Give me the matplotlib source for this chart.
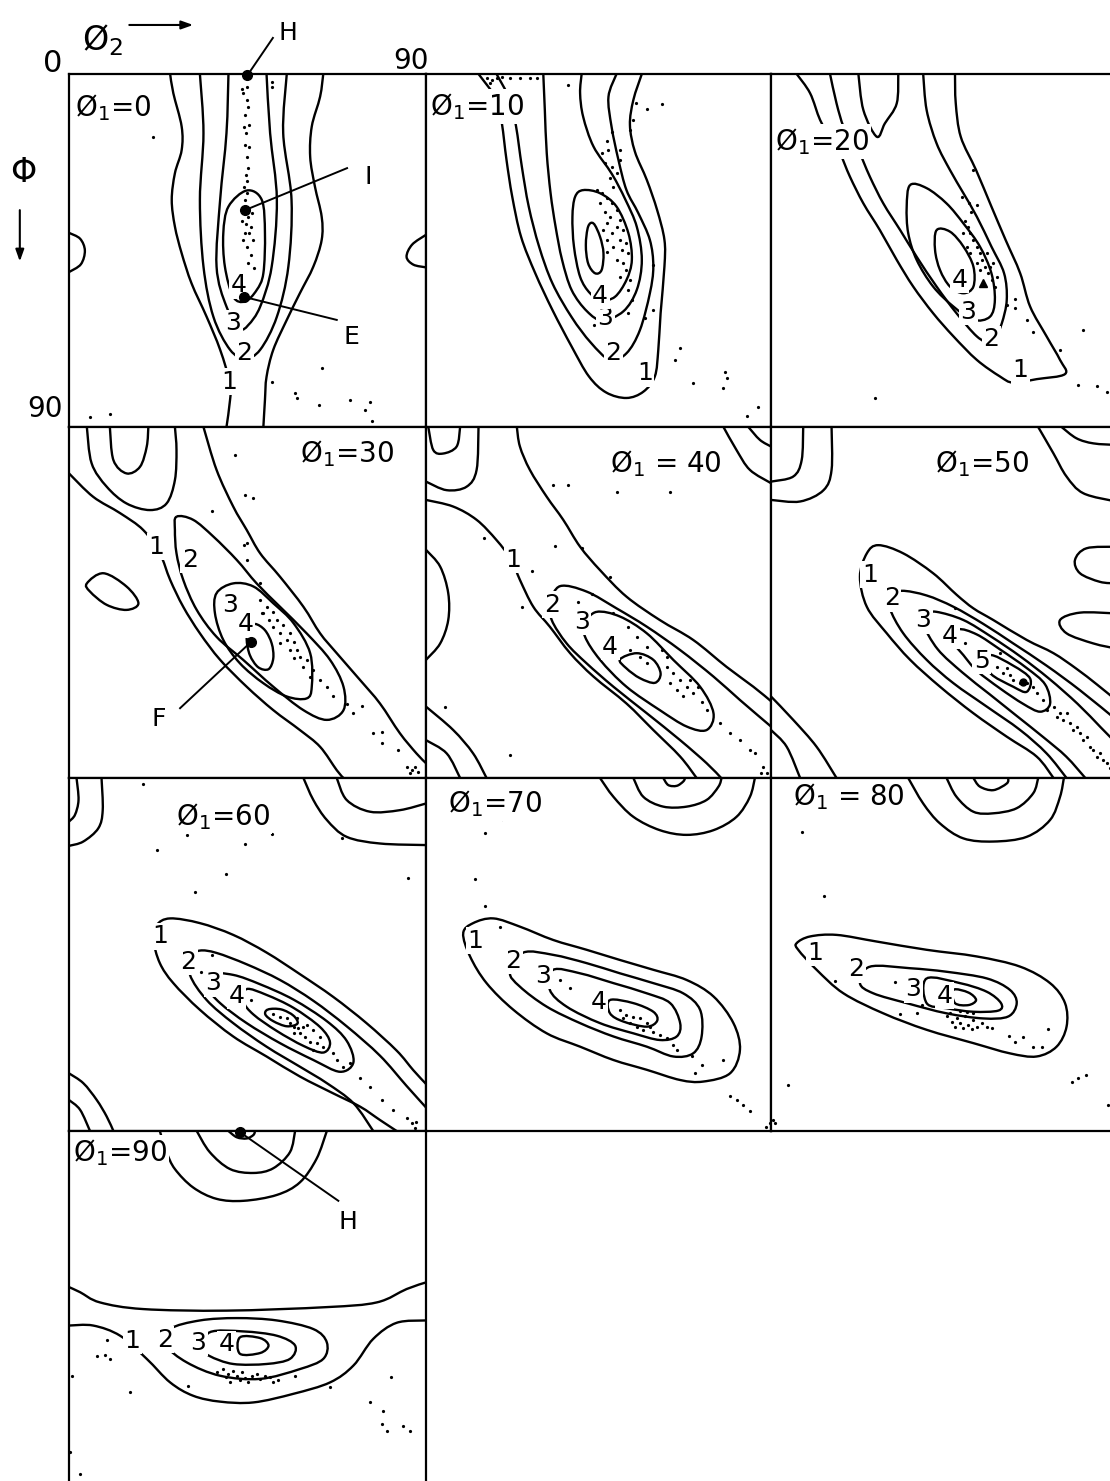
import matplotlib
matplotlib.use("Agg")
import matplotlib.pyplot as plt
from matplotlib.path import Path
from matplotlib.patches import PathPatch

plt.rcParams['font.family'] = ['DejaVu Sans']

PHI1 = [0, 10, 20, 30, 40, 50, 60, 70, 80, 90]

# phi1 = 0
P00_OPEN = [
    [(25.5, 0), (26.3, 4.9), (28.4, 13.4), (28.4, 19.4), (26.7, 25.3), (25.9, 32.1), (26.7, 38.9), (28.4, 45.7),
     (30.9, 53.4), (34.7, 61.9), (38.1, 70.3), (40.6, 78.8), (40.6, 83.1), (39.7, 90)],
    [(64.1, 0), (63.3, 5.8), (61.2, 13.4), (60.8, 21.1), (62, 28.7), (63.7, 36.4), (63.7, 42.3), (61.6, 49.1),
     (58.2, 55.9), (54.9, 62.7), (51.5, 70.3), (49.8, 77.2), (49.4, 83.1), (49, 90)],
    [(33, 0), (33.9, 15.1), (33, 32.1), (33.9, 49.1), (36.4, 61.9), (40.6, 70.3), (44.4, 72.5), (48.2, 70.3),
     (52.4, 61.9), (55.3, 49.1), (56.1, 32.1), (54, 15.1), (54.9, 0)],
    [(40.2, 0), (39.7, 15.1), (38.1, 32.1), (37.2, 49.1), (39.7, 59.3), (43.1, 64.8), (45.2, 64), (48.2, 59.3),
     (51.1, 49.1), (52.4, 32.1), (50.7, 15.1), (49.8, 0)],
    [(0, 40.5), (2.8, 42), (4, 45), (3, 48.5), (0, 50.5)],
    [(90, 41), (86.5, 43.5), (85.1, 46.6), (86.8, 48.6), (90, 49.3)],
]
P00_LOOPS = [
    [(44.8, 29.7), (48.6, 32.1), (49.4, 40.6), (49, 50.8), (47.3, 55.1), (44.4, 58), (41.4, 56.8), (39.3, 49.1),
     (38.9, 40.6), (40.2, 33.8)],
]
P00_LEVELS = [("1", 40.4, 78.5), ("2", 44.2, 71.2), ("3", 41.4, 63.6), ("4", 42.7, 53.8)]
P00_DOTS = [(43.5, 3.7), (44.8, 3.4), (43.8, 4.8), (45.2, 8.3), (44.4, 10.5), (45.5, 13), (44.6, 15.1), (44.4, 18.1),
            (44.8, 21.1), (45.2, 24), (44.6, 25.7), (44.9, 27.4), (44.4, 32.1), (45.2, 36.4), (43.5, 37.6),
            (45.8, 38.9), (44.4, 40.6), (46.3, 42.3), (44.8, 44), (45.8, 46.1), (45.2, 48.3), (46.6, 49.5),
            (43.9, 42.3), (45.5, 40.6), (44.6, 38.2), (46.1, 35.5), (43.9, 34.2), (44.9, 30.4), (44.1, 28.7),
            (45.5, 18.5), (44.2, 13.4), (45, 6.6), (51.1, 2), (51.1, 3.4), (63.7, 75), (51.1, 78.4), (57, 81.4),
            (57.4, 82.7), (62.9, 84.4), (70.8, 83.1), (75.9, 83.5), (74.6, 85.6), (76.3, 88.4), (5.3, 87.5),
            (10.3, 86.7), (21.3, 16)]

# phi1 = 10
P10_OPEN = [
    [(13.7, 0), (18.5, 6.6), (19.8, 12.6), (21, 21.9), (22.5, 31.3), (24.8, 41.5), (28.5, 50.8), (33, 60.2),
     (38, 69.5), (42.5, 77.1), (47, 81.2), (52.3, 82.6), (56.7, 81), (59.7, 77.1), (60.6, 70.3), (61.2, 61),
     (62.2, 49.1), (62.2, 42.3), (60.3, 34.7), (57.6, 27), (54.5, 19.8), (53.2, 13), (54.1, 6.6), (56.3, 0)],
    [(18.4, 0), (21.9, 6.6), (23.5, 13.4), (25, 23.6), (26.8, 33.8), (29.5, 44), (33, 53.4), (38, 62), (43, 68.5),
     (48, 72.9), (52.3, 71.2), (55.8, 65.3), (58.4, 55.9), (59.3, 49.1), (58.4, 42.3), (55.4, 35.5), (52.3, 29.6),
     (50.2, 21.9), (48.4, 13.4), (47.6, 5.8), (49.7, 0)],
    [(30.6, 0), (31, 9.2), (31.5, 20.2), (32.5, 30.4), (33.8, 38.9), (35.5, 47.4), (38, 55.1), (42, 60.5),
     (46, 62.8), (51.5, 60.5), (55, 55), (56.3, 47.4), (55, 39), (52, 32), (48.5, 25.5), (43.7, 18.5), (41, 10.9),
     (40.2, 4.9), (40.6, 0)],
]
P10_LOOPS = [
    [(41, 29.6), (45.4, 30.4), (49.7, 33.8), (52.8, 40.6), (53.7, 47.4), (52.3, 52.5), (49.3, 56.8), (45.8, 57.6),
     (42.8, 55.9), (40.2, 51.7), (38.6, 44), (38.2, 36.4), (38.9, 31.3)],
    [(43.7, 38.1), (45.4, 41.5), (46.3, 45.7), (45.8, 50), (44.1, 50.8), (42.3, 48.3), (41.7, 43.6), (42.3, 38.9)],
]
P10_LEVELS = [("1", 57.1, 76.3), ("2", 48.9, 71.2), ("3", 46.8, 62.3), ("4", 45.4, 56.5)]
P10_DOTS = [(15.8, 1.1), (17.1, 1.5), (18.4, 1.1), (19.7, 0.7), (16.7, 2.4), (21.9, 1.1), (24.5, 1.1), (27.1, 1.1),
            (28.9, 1.1), (37.1, 2.8), (54.9, 7.5), (57.6, 8.8), (61.5, 7.6), (54.1, 11.7), (53.2, 14.3),
            (48.4, 14.7), (47.1, 17.2), (45.8, 20.2), (47.6, 19.4), (50.6, 19.4), (46.7, 22.8), (48.4, 23.6),
            (50.6, 21.9), (49.7, 25.3), (48, 26.6), (48.9, 28.7), (44.5, 29.6), (45.8, 30.4), (47.1, 31.7),
            (48.4, 33), (49.7, 34.7), (45.4, 33), (46.7, 35.1), (48, 36.4), (50.6, 37.2), (49.7, 38.9),
            (51.5, 39.8), (47.1, 38.1), (46.3, 39.8), (48.4, 40.6), (50.6, 42.3), (52.3, 43.2), (47.1, 42.3),
            (48.9, 44), (51, 44.9), (52.8, 45.7), (47.1, 45.3), (49.7, 47.4), (51.5, 48.3), (52.3, 50),
            (50.6, 51.7), (53.2, 52.5), (52.8, 55.1), (53.7, 57.6), (52.8, 61), (57.1, 62.3), (59.3, 60.2),
            (59.3, 48.7), (43.7, 64), (66.3, 69.9), (65, 72.9), (78, 75.9), (78.4, 77.6), (77.6, 80.1),
            (69.7, 78.8), (86.7, 84.8), (83.7, 87.3)]

# phi1 = 20
P20_OPEN = [
    [(6.7, 0), (10.2, 4.9), (12.8, 11.7), (15.4, 16), (18, 20.2), (20.6, 26.2), (24.1, 33), (28.4, 39.8),
     (32.8, 47.4), (37.1, 54.2), (42.3, 61), (47.6, 66.9), (53.7, 72.9), (59.7, 77.1), (63.2, 78.7), (69.3, 77.8),
     (76.7, 76.5), (75.4, 72.9), (71.9, 66.9), (67.6, 59.3), (65, 50.8), (61.2, 42.3), (57.5, 33.8), (53.5, 24.5),
     (49.5, 16), (48.2, 7.5), (48, 0)],
    [(15.4, 0), (17.1, 7.5), (18.9, 13.4), (21, 16.8), (22.8, 19.4), (25.8, 26.2), (29.3, 33), (33.7, 39.8),
     (38, 46.6), (43.2, 54.2), (48.4, 61), (53.7, 66.9), (57.1, 68.6), (58.4, 67.4), (60.2, 63.6), (61.5, 57.6),
     (60.8, 50.8), (57.5, 44), (53.7, 36.4), (50.2, 30.4), (46.7, 24.5), (43.2, 17.7), (40.6, 9.2), (39.7, 0)],
    [(22.8, 0), (24.1, 9.2), (27.6, 16), (29.7, 12.6), (32.8, 7.5), (33.2, 0)],
]
P20_LOOPS = [
    [(36.3, 28.3), (40.6, 29.1), (45.8, 33), (50.2, 38.1), (54.5, 44), (57.5, 50.8), (58.4, 57.6), (57.1, 61.9),
     (52.8, 62.7), (47.6, 59.3), (42.3, 54.2), (38, 47.4), (35.8, 40.6), (35.4, 33.8)],
    [(43.2, 39.8), (46.7, 40.2), (50.2, 44), (52.8, 49.1), (52.8, 54.2), (50.2, 55.9), (46.7, 54.2), (44.1, 50),
     (42.8, 44.9)],
]
P20_LEVELS = [("1", 65, 75.5), ("2", 57.4, 67.6), ("3", 51.5, 60.6), ("4", 49.3, 52.5)]
P20_DOTS = [(50.6, 37.6), (51.5, 38.9), (52, 40.6), (52.8, 42.3), (53.7, 44), (54.5, 45.7), (55, 47.4),
            (55.8, 49.1), (56.7, 50.8), (57.6, 52.5), (58.4, 54.2), (50.2, 40.6), (51, 44), (51.9, 45.7),
            (53.7, 48.3), (54.5, 49.9), (57.1, 49.1), (56.3, 45.7), (58, 48.3), (58.9, 51.7), (52.8, 24.5),
            (49.7, 31.3), (51.7, 33), (53.7, 33.4), (52.1, 35.1), (63.7, 57.4), (61.5, 58.9), (63.7, 59.7),
            (66.7, 62.7), (68.4, 65.7), (81.5, 65.3), (75.4, 70.3), (80.2, 79.3), (85, 79.5), (87.6, 81),
            (27.1, 82.7)]

# phi1 = 30
P30_OPEN = [
    [(0, 11.9), (6.1, 17.9), (12.9, 22.1), (18.7, 26.4), (22.9, 32.4), (25.5, 39.2), (28.8, 46.1), (33, 52.9),
     (38.1, 59.7), (44.8, 66.6), (51.5, 72.6), (58.2, 77.7), (63.3, 82), (67.5, 88), (69.2, 90)],
    [(33.9, 0), (37.2, 11), (41.4, 20.4), (44.8, 26.4), (48.2, 32.4), (53.2, 38.4), (59.1, 46.1), (63.3, 52.9),
     (67.5, 58), (73.4, 64.9), (78.4, 70.9), (83.4, 78.5), (87.6, 83.7), (90, 86.2)],
    [(4.5, 0), (5.7, 9.3), (9.5, 15.3), (14.5, 19.6), (20.4, 21.3), (24.6, 19.6), (26.7, 13.6), (27.1, 5.9),
     (26.7, 0)],
    [(10.3, 0), (11.2, 8.5), (14.5, 11.9), (17.9, 10.2), (19.6, 5), (20, 0)],
]
P30_LOOPS = [
    [(4.5, 40.1), (8.7, 37.5), (14.5, 40.9), (17.5, 45.2), (14.5, 46.9), (9.5, 45.6), (5.3, 42.2)],
    [(27.1, 23), (31.3, 23.8), (36.4, 28.1), (42.3, 34.1), (47.3, 40.1), (53.2, 46.1), (59.9, 52.9), (65.8, 59.7),
     (69.2, 66.6), (69.2, 72.6), (65, 75.1), (59.1, 72.6), (51.5, 66.6), (43.9, 59.7), (37.2, 53.8), (32.2, 46.9),
     (28.8, 39.2), (27.1, 32.4), (26.7, 26.4)],
    [(37.2, 42.6), (41.4, 40.1), (46.5, 40.9), (51.5, 45.2), (56.6, 50.3), (60.8, 58), (61.2, 66.6), (59.9, 69.6),
     (54.9, 69.1), (49, 65.7), (43.1, 60.6), (38.9, 54.6), (36.8, 47.8)],
    [(46.9, 50.5), (49.4, 52.1), (51.1, 55.5), (51.5, 59.3), (50.3, 62.1), (47.7, 61.6), (45.6, 58.5), (44.8, 54.6),
     (45.2, 51.9)],
]
P30_LEVELS = [("1", 22.1, 30.7), ("2", 30.5, 34.1), ("3", 40.6, 45.6), ("4", 44.6, 50.6)]
P30_DOTS = [(48.2, 44.4), (49.8, 46.1), (51.5, 47.4), (49, 47.8), (52.4, 49.5), (54, 50.8), (51.5, 51.2),
            (53.2, 52.9), (55.7, 52.9), (54.9, 54.6), (56.6, 55), (53.2, 55.5), (55.7, 57.2), (57.4, 57.2),
            (58.2, 58.9), (56.6, 59.3), (59.9, 59.7), (59.1, 61.5), (61.6, 62.3), (60.8, 64), (63.3, 64.9),
            (65, 66.6), (66.6, 69.1), (70, 70.9), (73.8, 71.5), (71.7, 73.4), (76.7, 78.5), (78.8, 78.1),
            (78.8, 80.9), (83, 82.8), (48.2, 40.1), (44.8, 29.8), (44, 30.3), (44.8, 34.1), (41.8, 7.2),
            (44.4, 17.4), (46.3, 18.3), (36, 21.5), (48.6, 47.8), (50.3, 49.5), (85.1, 87.1), (86.4, 87.9),
            (87.2, 87.1), (88.1, 88.4), (86, 88.8)]

# phi1 = 40
P40_OPEN = [
    [(23.7, 0), (24.5, 5), (27.1, 11), (31.5, 17.9), (35.8, 23.8), (40.2, 30.7), (45.4, 36.7), (52.3, 43.5),
     (61, 49.5), (69.7, 54.6), (78.4, 61.5), (85.4, 66.6), (90, 70.3)],
    [(0, 18.7), (7.1, 20.4), (13.2, 23.8), (18.4, 29), (22.3, 34.1), (24.5, 39.2), (28, 46.1), (32.3, 51.2),
     (37.6, 58), (43.7, 64), (52.3, 70.9), (59.3, 77.7), (66.3, 84.5), (70.6, 90)],
    [(77, 90), (73.2, 86.2), (66.3, 80.3), (57.6, 73.4), (48.9, 66.6), (41.9, 60.6), (36.7, 55.5), (32.8, 49.5),
     (32.5, 45), (35, 40.8), (41.9, 42.2), (49.7, 46.5), (57.6, 51.2), (66.3, 57.2), (75, 64), (81.9, 70),
     (90, 76.8)],
    [(0.6, 0), (1.9, 5.9), (4.5, 6.8), (8, 5), (8.9, 0)],
    [(13.7, 0), (13.2, 11), (10.6, 15.3), (5.4, 16.2), (0, 14)],
    [(0, 31.5), (3.7, 35.8), (5.8, 42.6), (5.8, 49.5), (3.7, 55.5), (0, 59.7)],
    [(0, 71.7), (7.1, 77.7), (12.3, 83.7), (15.8, 90)],
    [(0, 80.3), (5.4, 83.7), (8.9, 90)],
    [(77.6, 0), (81, 5.9), (84.5, 11), (90, 14.4)],
    [(84.1, 0), (87.1, 3.3), (90, 5)],
]
P40_LOOPS = [
    [(44.5, 47.4), (50.6, 48.6), (57.6, 52.9), (64.5, 59.7), (71.5, 66.6), (75, 73.4), (73.2, 77.7), (68, 76.8),
     (61, 72.6), (52.3, 66.6), (45.4, 59.7), (41.5, 53.8), (41.5, 50.3)],
    [(50.6, 59.6), (55, 58), (59.3, 59.7), (61.2, 63.2), (59.7, 65.6), (55.8, 64.4), (52.3, 61.9)],
]
P40_LEVELS = [("1", 22.8, 34.1), ("2", 32.8, 45.6), ("3", 40.6, 49.9), ("4", 48, 56.3)]
P40_DOTS = [(33.2, 14.9), (37.1, 14.9), (49.7, 16.6), (63.7, 16.6), (33.7, 30.5), (40.6, 31.1), (27.6, 36.8),
            (48, 38.4), (43.2, 42.8), (15, 28.5), (25, 46.2), (39.7, 44.8), (48.9, 47.8), (52.8, 51.2),
            (55, 53.8), (57.6, 56.3), (62.9, 61.5), (64.5, 63.2), (66.3, 64.9), (68, 66.6), (69.7, 68.3),
            (71.9, 70.4), (63.7, 65.7), (65.4, 67.4), (67.1, 69.1), (73.2, 72.6), (76.7, 76), (79.3, 78.5),
            (81.9, 80.3), (84.5, 82.8), (85.8, 83.7), (53.2, 57.2), (55.8, 58.9), (57.6, 60.6), (61.5, 57.2),
            (62.8, 58.9), (68.9, 64.9), (71, 66.6), (4.9, 71.7), (21.9, 84.1), (88, 87.1), (88.9, 88.8),
            (87.5, 88.6)]

# phi1 = 50
P50_OPEN = [
    [(73.7, 90), (69.3, 84.5), (61.5, 79.4), (52.8, 73.4), (44.1, 66.6), (36.3, 59.7), (30.2, 52.9), (25, 46.1),
     (23.2, 38.4), (25, 32.4), (28, 30.3), (34.5, 32.4), (42.3, 37.5), (48.4, 43), (52.8, 46.5), (58, 49.5),
     (66.7, 54.6), (73.7, 58), (79.7, 62), (85, 66), (90, 70)],
    [(77.1, 90), (71.9, 83.7), (65, 77.7), (56.3, 71.7), (47.6, 65.7), (40.6, 59.7), (34.5, 52.9), (31, 46.5),
     (31.5, 43.5), (34.1, 42), (40.6, 43.2), (47.6, 46.1), (55.4, 50.5), (63.2, 55.5), (71.9, 61.2),
     (80.6, 67.5), (90, 75)],
    [(82, 90), (77, 84.5), (71, 79.5), (64, 74), (57, 68.5), (50, 63), (43.5, 57), (39.7, 50.5), (40.5, 48),
     (43.2, 47.4), (50.2, 49.5), (57.5, 53.8), (65, 58.8), (72.5, 64.5), (80, 71), (86, 77), (90, 81)],
    [(8.4, 0), (8, 8.5), (5.8, 12.7), (0, 14)],
    [(15.8, 0), (15.8, 11), (13.7, 16.2), (7.6, 19.1), (0, 18.7)],
    [(69.7, 0), (73.7, 6.8), (77.1, 12.7), (81.5, 17), (90, 19.1)],
    [(75.8, 0), (79.7, 2.9), (84.1, 4.2), (90, 4.6)],
    [(90, 30.7), (82.3, 31.1), (79.3, 34.1), (80.6, 37.5), (85.8, 39.7), (90, 40.1)],
    [(90, 47.8), (80.6, 47.6), (75.4, 49.5), (77.1, 52.9), (84.1, 55.5), (90, 56.8)],
    [(0, 69.1), (5.8, 75.1), (11.9, 82), (17.1, 90)],
    [(0, 77.7), (4.1, 82), (7.6, 90)],
]
P50_LOOPS = [
    [(48.9, 51.9), (53.7, 53.2), (59.7, 57), (66.7, 61.8), (71.5, 66), (72.8, 71), (70.2, 73), (65.8, 71),
     (59.7, 67), (53.7, 62.5), (50.2, 58.5), (47.5, 55)],
    [(57.1, 58.5), (63.2, 61.2), (67.6, 64.5), (66.7, 67.9), (63.2, 66.6), (57.1, 63)],
]
P50_LEVELS = [("1", 25.8, 37.9), ("2", 31.5, 43.9), ("3", 39.7, 49.5), ("4", 46.7, 53.5), ("5", 55, 59.9)]
P50_DOTS = [(58.9, 61.5), (60.6, 63.2), (62.3, 63.6), (63.2, 64.9), (65, 65.7), (66.7, 65.7), (68.4, 66.6),
            (69.3, 68.3), (71, 70), (73.7, 71.7), (75.4, 73.4), (76.3, 75.1), (78, 76), (78.9, 77.7),
            (80.6, 78.5), (81.5, 80.3), (83.2, 82), (84.1, 82.8), (85.8, 83.7), (86.7, 85.4), (87.6, 86.2),
            (77.1, 73.4), (74.5, 74.3), (79.7, 76.8), (85, 84.5), (61.5, 61.9), (71.9, 72.6), (48, 46.5),
            (50.6, 55.5), (59.7, 58), (88.5, 87.5), (82.5, 79.5)]

# phi1 = 60
P60_OPEN = [
    [(82.6, 90), (78.4, 87.2), (73.4, 83.8), (66.6, 80.4), (58.2, 76.1), (49.8, 71), (41.4, 65.9), (33, 59.1),
     (26.3, 52.3), (22.9, 47.2), (21.3, 41.3), (22.1, 37.5), (25.5, 35.8), (33, 37), (41.4, 40), (49.8, 44.5),
     (58.2, 50), (66.6, 55.8), (75, 62.5), (82.6, 69.5), (86.8, 74.5), (90, 78)],
    [(76.7, 90), (71.7, 82.9), (65, 77.8), (58.2, 73.6), (49.8, 68.5), (41.4, 62.5), (34.7, 56.6), (30.5, 50.2),
     (31, 45.5), (33, 44), (37.2, 44.6), (44.8, 47.5), (53.2, 51.5), (61.6, 56.8), (70, 63.3), (78.4, 70.8),
     (85.1, 78.5), (90, 84)],
    [(8.2, 0), (8.5, 8.2), (7.4, 12.8), (3.6, 16.2), (0, 17.3)],
    [(1.9, 0), (2.4, 5.6), (1.5, 9.4), (0, 11.1)],
    [(59.1, 0), (61.6, 5.6), (65, 10.7), (70, 15), (78.4, 16.7), (90, 17.1)],
    [(67.5, 0), (70, 5.6), (75.9, 8.6), (83.4, 8.2), (90, 6.5)],
    [(0, 75.3), (3.6, 77.8), (7, 82.1), (9.5, 86.3), (11.2, 90)],
    [(0, 82.1), (2.8, 84.6), (5.3, 90)],
]
P60_LOOPS = [
    [(35.5, 50), (41.4, 50.2), (48.2, 52.6), (56.6, 56.5), (65, 62), (70, 67), (71.7, 72.5), (68.3, 74.9),
     (61.6, 71.9), (53.2, 67.6), (44.8, 62.5), (38.1, 57.4), (35, 53.5)],
    [(44.8, 53.8), (49.8, 55.3), (56.6, 58.6), (63.3, 63.5), (65.8, 67.4), (64.1, 70), (59.1, 68.3), (52.4, 64.5),
     (46.5, 60.3), (44, 57)],
    [(50.2, 59), (53.5, 59), (56.6, 60.6), (57.6, 62.6), (54.9, 63.3), (51.5, 62), (49.5, 60.3)],
]
P60_LEVELS = [("1", 22.9, 40.4), ("2", 30.1, 46.8), ("3", 36.4, 52.3), ("4", 42.3, 55.5)]
P60_DOTS = [(18.7, 1.5), (29.7, 14.5), (22.1, 18.4), (31.8, 29), (44.4, 16.7), (51.1, 14.3), (68.7, 15.4),
            (39.7, 24.5), (85.5, 25.6), (36, 45.1), (33.4, 49.5), (51.5, 60.1), (53.2, 61), (54.9, 61.3),
            (55.7, 62.5), (56.6, 63.4), (57.8, 63.8), (58.2, 65.1), (59.5, 66), (59.9, 62.9), (61.6, 64.2),
            (60.8, 67.2), (62.4, 67.6), (63.3, 66), (64.1, 68.5), (59.1, 63.4), (57.4, 61.3), (56.6, 65.1),
            (61.6, 69.3), (66.6, 70.2), (67.5, 71.9), (69.2, 73.6), (70.8, 72.7), (73.4, 76.5), (75.9, 78.7),
            (78.8, 82.1), (81.8, 84.6), (85.1, 86.7), (86.4, 88), (87.6, 87.6), (87.2, 89.3), (46, 56.6),
            (40.6, 53.2)]

# phi1 = 70
P70_OPEN = [
    [(45.4, 0), (48.9, 4.8), (54.1, 9.9), (61, 13.3), (68, 14.5), (75, 13.3), (81, 9.9), (84.5, 4.8), (85.8, 0)],
    [(54.1, 0), (56.7, 4.8), (61.9, 7.3), (68, 7.3), (73.2, 5.6), (76.3, 2.2), (77.1, 0)],
    [(61.9, 0), (63.2, 1.8), (65.4, 2), (67.1, 0.9), (67.6, 0)],
]
P70_LOOPS = [
    [(9.7, 39.6), (12.3, 37), (17.6, 35.8), (24.5, 37.9), (33.2, 41.3), (41.9, 43.8), (50.6, 46.4), (59.3, 48.9),
     (68, 51.5), (75, 55.7), (80.2, 62.5), (81.9, 69.3), (79.3, 75.3), (72.3, 77.4), (66.3, 77), (57.6, 74.4),
     (48.9, 71.9), (40.2, 68.5), (31.5, 65.1), (22.8, 59.1), (15.8, 52.3), (11.5, 45.5)],
    [(25.4, 44.5), (33.2, 45.1), (41.9, 47.2), (50.6, 49.8), (59.3, 52.3), (67.1, 54.9), (71.5, 59.1),
     (71.9, 65.9), (69.7, 70.2), (64.5, 71), (57.6, 68.5), (48.9, 65.9), (40.2, 62.5), (31.5, 58.3), (24.5, 53.2),
     (21.9, 49.5)],
    [(33.2, 48.9), (40.2, 49.8), (48.9, 52.3), (57.6, 54.9), (63.7, 57.4), (66.3, 62.5), (65.4, 65.9), (61, 66.8),
     (54.1, 65.1), (45.4, 62.5), (36.7, 58.3), (32.3, 54)],
    [(48, 56.6), (54.1, 57.4), (59.3, 59.6), (60.3, 61.9), (57.6, 63.4), (51.5, 62.1), (48, 60)],
]
P70_LEVELS = [("1", 12.8, 41.5), ("2", 22.8, 46.6), ("3", 30.6, 50.4), ("4", 45, 57.2)]
P70_DOTS = [(19.7, 10.5), (15.4, 13.9), (12.8, 25.8), (15.4, 32.6), (19.3, 38.1), (50.6, 59.1), (52.3, 60.4),
            (54.1, 60.9), (55.8, 61.3), (57.6, 62.5), (53.2, 62.5), (55, 63.4), (56.7, 64.2), (59.3, 64.7),
            (61, 65.5), (62.8, 66.4), (64.5, 68.1), (65.4, 69.3), (51.5, 61.3), (58.4, 63.4), (35, 51.5),
            (37.6, 53.6), (69.3, 71), (71.9, 73.2), (77.6, 72), (70.2, 75.3), (79.3, 81.2), (81, 82.1),
            (82.8, 83.3), (84.5, 85), (89.7, 88), (88.8, 88.9)]

# phi1 = 80
P80_OPEN = [
    [(35.8, 0), (39.7, 6.5), (44.1, 11.6), (50.2, 15.4), (58, 16.2), (66.7, 15), (72.8, 10.7), (75.4, 4.8),
     (76.4, 0)],
    [(45.8, 0), (48.4, 4.8), (52.8, 8.6), (58, 9), (64.1, 7.7), (68.4, 3.9), (69.7, 0)],
    [(52.8, 0), (54.5, 2.2), (58, 3.1), (61.5, 1.4), (61.9, 0)],
]
P80_LOOPS = [
    [(6.7, 42.1), (10.2, 40.4), (17.1, 40), (27.6, 41.7), (40.6, 43.8), (53.7, 45.5), (65, 48.1), (72.8, 52.3),
     (76.7, 57.4), (77.1, 63.4), (74.5, 68.5), (69.3, 71), (62.3, 70.2), (52.8, 67.6), (40.6, 64.2), (29.3, 60),
     (18.9, 54.9), (11.9, 48.9), (7.1, 43.8)],
    [(25.8, 48.1), (36.3, 48.5), (45.8, 49.4), (56.3, 51.1), (62.3, 54), (64.1, 57.4), (61.9, 60.8), (55.4, 61.3),
     (45.8, 60), (35.4, 57.4), (26.7, 54.9), (23.2, 52.3)],
    [(40.6, 51.1), (49.3, 52.3), (56.3, 54.5), (60, 57.4), (59.3, 59.3), (52.8, 59.6), (45.8, 58.7), (40.6, 57.4)],
    [(47.6, 54), (51.5, 54.7), (53.5, 56.6), (51.5, 57.9), (48, 57.4)],
]
P80_LEVELS = [("1", 11.5, 44.5), ("2", 22.3, 48.8), ("3", 37.1, 53.8), ("4", 45.2, 55.5)]
P80_DOTS = [(13.7, 30.2), (8, 13.7), (16.7, 51.7), (32.3, 51.9), (39.3, 57.9), (38, 60), (33.7, 60.2),
            (45.8, 60.8), (47.1, 62.1), (48.4, 61.3), (49.3, 62.5), (50.6, 60.8), (51.5, 63), (52.8, 61.7),
            (53.7, 63.4), (55, 62.5), (56.3, 63.4), (57.6, 63.8), (48, 63.4), (50.2, 63.8), (52.4, 64.1),
            (46.7, 59.8), (49.3, 59.3), (51, 59.6), (52.8, 59.8), (62, 65.8), (63.7, 67.2), (65.8, 66.1),
            (72.3, 64.1), (68.4, 68.5), (70.6, 68.5), (78.4, 77.4), (80.2, 76.5), (82.2, 75.7), (88, 83.3),
            (4.5, 78.2), (0.6, 87.2), (1, 88)]

# phi1 = 90
P90_OPEN = [
    [(22.9, 0), (24.6, 5.4), (26.7, 9.7), (31.3, 14.4), (37.2, 17.3), (44, 17.8), (52.4, 16.3), (58.2, 13.1),
     (62.4, 7.1), (65, 0)],
    [(32.2, 0), (35.5, 5.4), (40.6, 9.7), (46.5, 10.7), (51.5, 9.5), (55.7, 5.4), (57, 0)],
    [(40.2, 0), (42.3, 1.6), (44.8, 1.9), (46.5, 1), (46.9, 0)],
    [(0, 39.8), (2.8, 41.1), (7.8, 43.7), (18.7, 45.4), (39.7, 45.8), (65, 44.9), (77.6, 43.7), (85.1, 40.3),
     (90, 38.6)],
    [(0, 49.6), (6.1, 49.6), (12.9, 52.2), (19.6, 58.1), (25.5, 64.1), (31.3, 67.5), (38.1, 69), (46.5, 69.2),
     (56.6, 67), (65.8, 64.1), (71.7, 59.8), (76.7, 53), (82.6, 48.9), (90, 48.3)],
]
P90_LOOPS = [
    [(25.5, 50.5), (33, 48.3), (42.3, 47.7), (52.4, 48.3), (61.6, 50.5), (65, 53.9), (64.1, 58.1), (58.2, 60.7),
     (48.2, 63.2), (38.1, 62.4), (29.7, 59), (24.6, 54.7)],
    [(35.5, 51.3), (44, 51.1), (52.4, 52.2), (57, 54.7), (55.7, 58.1), (49.8, 59.4), (41.4, 59.4), (35.5, 57.4),
     (34, 55.6)],
    [(43.1, 52.6), (48.2, 52.8), (50.3, 54.7), (48.2, 56.6), (43.1, 56.8)],
]
P90_LEVELS = [("1", 15.9, 53.5), ("2", 24.2, 53.2), ("3", 32.6, 54), ("4", 39.7, 54.4)]
P90_DOTS = [(37.2, 61.5), (38.9, 60.8), (40.2, 61.9), (41.4, 61.1), (42.3, 62.4), (43.5, 61.5), (44.4, 63),
            (45.2, 64), (46.1, 62.4), (47.3, 61.9), (48.2, 63.2), (49.4, 62.4), (50.6, 62.8), (51.5, 64.1),
            (52.8, 63.6), (40.6, 64.1), (43.1, 63.6), (39.7, 62.8), (57, 62.4), (30.1, 64.9), (65.8, 65.3),
            (81.3, 62.8), (75.9, 69.2), (79.2, 71.5), (78.8, 74.7), (80.1, 76.4), (84.3, 75.1), (86, 76.6),
            (9.5, 53.4), (7, 57.4), (9.1, 57.2), (10.3, 58.1), (15.4, 66.6), (0.7, 62.4), (0.3, 81.9),
            (2.8, 87.4)]

# position of the "phi1 = .." caption in each section (phi2, Phi)
TITLE_POS = [(1.5, 8.6), (1.0, 8.3), (1.0, 17.2), (58.2, 6.8), (48.0, 9.5), (42.8, 9.5), (27.1, 9.9),
             (5.8, 6.5), (5.8, 4.8), (1.1, 5.4)]
TITLE_SPACED = [False, False, False, False, True, False, False, False, True, False]

# ---------------- layout (pixels of the 1110 x 1481 sheet) -----------------
W, H = 1110, 1481
COL_X = [69, 426, 771]
COL_W = [357, 345, 345]
ROW_Y = [74, 427, 778, 1131]
ROW_H = [353, 351, 353, 353]

LW = 1.7


def smooth(pts, closed):
    # Catmull-Rom curve through the read-off points, drawn as cubic Bezier segments
    n = len(pts)
    if closed:
        get = lambda k: pts[k % n]
        nseg = n
    else:
        get = lambda k: pts[min(max(k, 0), n - 1)]
        nseg = n - 1
    verts = [pts[0]]
    codes = [Path.MOVETO]
    for i in range(nseg):
        p0, p1, p2, p3 = get(i - 1), get(i), get(i + 1), get(i + 2)
        c1 = (p1[0] + (p2[0] - p0[0]) / 6, p1[1] + (p2[1] - p0[1]) / 6)
        c2 = (p2[0] - (p3[0] - p1[0]) / 6, p2[1] - (p3[1] - p1[1]) / 6)
        verts += [c1, c2, p2]
        codes += [Path.CURVE4] * 3
    return Path(verts, codes)


fig = plt.figure(figsize=(W / 100, H / 100), dpi=100)
fig.patch.set_facecolor('white')

panels = [
    (P00_OPEN, P00_LOOPS, P00_LEVELS, P00_DOTS), (P10_OPEN, P10_LOOPS, P10_LEVELS, P10_DOTS),
    (P20_OPEN, P20_LOOPS, P20_LEVELS, P20_DOTS), (P30_OPEN, P30_LOOPS, P30_LEVELS, P30_DOTS),
    (P40_OPEN, P40_LOOPS, P40_LEVELS, P40_DOTS), (P50_OPEN, P50_LOOPS, P50_LEVELS, P50_DOTS),
    (P60_OPEN, P60_LOOPS, P60_LEVELS, P60_DOTS), (P70_OPEN, P70_LOOPS, P70_LEVELS, P70_DOTS),
    (P80_OPEN, P80_LOOPS, P80_LEVELS, P80_DOTS), (P90_OPEN, P90_LOOPS, P90_LEVELS, P90_DOTS),
]

white = dict(boxstyle='square,pad=0.06', fc='white', ec='none')
axes = []
for i, (opens, loops, levels, dots) in enumerate(panels):
    r, c = divmod(i, 3)
    ax = fig.add_axes([COL_X[c] / W, 1 - (ROW_Y[r] + ROW_H[r]) / H, COL_W[c] / W, ROW_H[r] / H])
    ax.set_xlim(0, 90)
    ax.set_ylim(90, 0)
    ax.set_xticks([])
    ax.set_yticks([])
    for s in ax.spines.values():
        s.set_linewidth(1.6)
    for ln in opens:
        ax.add_patch(PathPatch(smooth(ln, False), fill=False, ec='black', lw=LW, capstyle='round',
                               joinstyle='round'))
    for lp in loops:
        ax.add_patch(PathPatch(smooth(lp, True), fill=False, ec='black', lw=LW, joinstyle='round'))
    dx, dy = zip(*dots)
    ax.plot(dx, dy, 'o', color='black', ms=2.3, mew=0, ls='none')
    for txt, x, y in levels:
        ax.text(x, y, txt, fontsize=18, ha='center', va='center', bbox=white, zorder=5)
    tx, ty = TITLE_POS[i]
    eq = ' = ' if TITLE_SPACED[i] else '='
    ax.text(tx, ty, '$\\mathregular{Ø_1}$' + eq + str(PHI1[i]), fontsize=20, ha='left', va='center',
            bbox=white, zorder=6)
    axes.append(ax)

# ---------------- annotations -----------------
a0 = axes[0]
kw = dict(clip_on=False, zorder=7)
# special orientations H, I, E on phi1 = 0
for (px, py), (lx, ly), (tx, ty), name in [((45, 0.3), (51.4, -9.2), (55.2, -10.5), 'H'),
                                           ((44.4, 34.7), (70.1, 24), (75.4, 26.3), 'I'),
                                           ((44, 56.8), (67.5, 62.7), (71.3, 67), 'E')]:
    a0.plot([px, lx], [py, ly], color='black', lw=1.4, **kw)
    a0.plot(px, py, 'o', color='black', ms=7, **kw)
    a0.text(tx, ty, name, fontsize=18, ha='center', va='center', **kw)

a3 = axes[3]
a3.plot([46, 28], [55, 72.1], color='black', lw=1.4, zorder=7)
a3.plot(46, 55, 'o', color='black', ms=7, zorder=7)
a3.text(22.5, 75, 'F', fontsize=18, ha='center', va='center', zorder=7)

a9 = axes[9]
a9.plot([43.1, 67.9], [0.3, 17.8], color='black', lw=1.4, **kw)
a9.plot(43.1, 0.3, 'o', color='black', ms=7, **kw)
a9.text(70.4, 23.3, 'H', fontsize=18, ha='center', va='center', **kw)

axes[2].plot(55.4, 53.4, '^', color='black', ms=6, zorder=7)
axes[5].plot(65.8, 65.3, 'o', color='black', ms=5, zorder=7)

# axis captions
a0.text(8.6, -8.7, '$\\mathregular{Ø_2}$', fontsize=24, ha='center', va='center', **kw)
a0.annotate('', xy=(32, -12.5), xytext=(14.5, -12.5), annotation_clip=False,
            arrowprops=dict(arrowstyle='-|>,head_length=0.7,head_width=0.25', color='black', lw=1.5))
a0.text(-4, -2.8, '0', fontsize=22, ha='center', va='center', **kw)
a0.text(86.2, -3.4, '90', fontsize=20, ha='center', va='center', **kw)
a0.text(-6, 85.4, '90', fontsize=20, ha='center', va='center', **kw)
a0.text(-11.6, 25, 'Φ', fontsize=24, ha='center', va='center', **kw)
a0.annotate('', xy=(-12.4, 48.5), xytext=(-12.4, 34), annotation_clip=False,
            arrowprops=dict(arrowstyle='-|>,head_length=0.7,head_width=0.25', color='black', lw=1.5))

fig.savefig('out.png', dpi=100, facecolor='white')
